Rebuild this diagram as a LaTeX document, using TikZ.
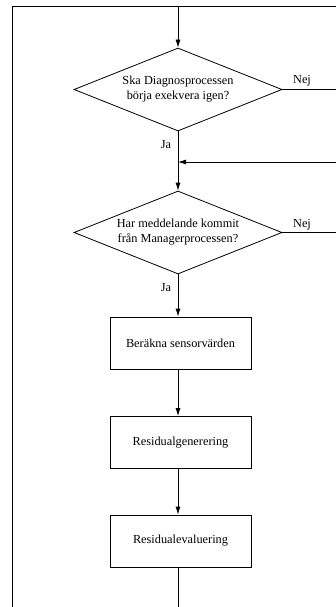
\documentclass[tikz,border=0pt]{standalone}
\usepackage{fontspec}
\setmainfont{Liberation Serif}
\usetikzlibrary{shapes.geometric,arrows.meta}
\begin{document}
\begin{tikzpicture}[x=1pt,y=-1pt,
  line width=0.8pt,
  every node/.style={font=\fontsize{12.3}{15}\selectfont},
  decision/.style={draw,diamond,aspect=2.5,inner sep=0pt,minimum width=208pt,minimum height=83pt,align=center},
  process/.style={draw,rectangle,minimum width=141pt,minimum height=52pt,align=center},
  flow/.style={-{Latex[length=8pt,width=5pt]}},
  lbl/.style={inner sep=1pt}]
\useasboundingbox (0,0) rectangle (336,607);
\fill[white] (0,0) rectangle (336,607);

% loop frame
\coordinate (tr) at (336,6);
\coordinate (tl) at (12,6);
\coordinate (bl) at (12,607);
\coordinate (top) at (178,6);
\draw (tr) -- (tl) -- (bl);

% decisions
\node[decision] (d1) at (178,89.5) {Ska Diagnosprocessen\\börja exekvera igen?};
\node[decision] (d2) at (178,232.5) {Har meddelande kommit\\från Managerprocessen?};

% process steps
\node[process] (b1) at (180.5,343) {Beräkna sensorvärden};
\node[process] (b2) at (180.5,442.5) {Residualgenerering};
\node[process] (b3) at (180.5,541) {Residualevaluering};

% right-hand connector ends
\coordinate (r1) at (336,89.5);
\coordinate (r2) at (336,232.5);
\coordinate (rin) at (336,162);
\coordinate (merge) at (178,162);
\coordinate (bot) at (178,607);

% main flow
\draw[flow] (top) -- (d1.north);
\draw[flow] (d1.south) -- (d2.north);
\draw[flow] (rin) -- (merge);
\draw[flow] (d2.south) -- (d2.south |- b1.north);
\draw[flow] (d2.south |- b1.south) -- (d2.south |- b2.north);
\draw[flow] (d2.south |- b2.south) -- (d2.south |- b3.north);
\draw (d2.south |- b3.south) -- (bot);

% no-branches
\draw (d1.east) -- (r1);
\draw (d2.east) -- (r2);

% labels
\node[lbl] (n1) at (302,81) {Nej};
\node[lbl] (n2) at (302,225) {Nej};
\node[lbl] (j1) at (166,145) {Ja};
\node[lbl] (j2) at (166,288) {Ja};
\end{tikzpicture}
\end{document}
